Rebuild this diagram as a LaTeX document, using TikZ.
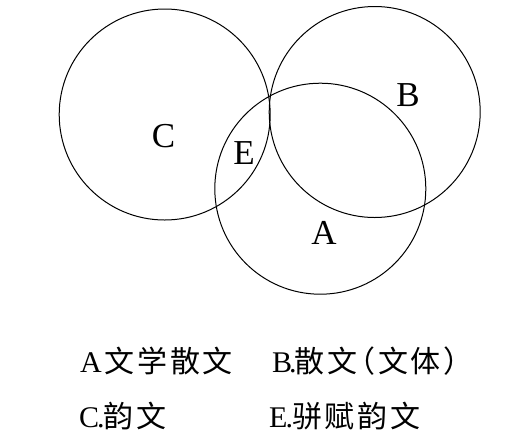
\documentclass[tikz,border=0pt]{standalone}
\usepackage{fontspec}
\setmainfont{Liberation Serif}
\newfontfamily\cjk[LetterSpace=9]{Noto Sans CJK SC}

\begin{document}
\begin{tikzpicture}[
    x=1pt, y=-1pt,
    ring/.style={draw, circle, line width=1pt, minimum size=211pt, inner sep=0pt},
    tag/.style={font=\fontsize{35}{35}\selectfont, inner sep=0pt},
    legend/.style={font=\fontsize{30}{30}\selectfont, inner sep=0pt, anchor=base west}
  ]
    \useasboundingbox (0,0) rectangle (510,437);

    \node[ring] (circC) at (164.7,114.5) {};
    \node[ring] (circB) at (374.7,112) {};
    \node[ring] (circA) at (320.3,188.7) {};

    \node[tag] (tagC) at (163.5,136.5) {C};
    \node[tag] (tagE) at (244,153) {E};
    \node[tag] (tagB) at (408,95) {B};
    \node[tag] (tagA) at (324,233) {A};

    \node[legend] (legA) at (80,372) {A\hspace{3pt}{\cjk\fontsize{30}{30}\selectfont 文学散文}};
    \node[legend] (legB) at (272,372) {B\kern-3pt.\hspace{-2pt}{\cjk\fontsize{30}{30}\selectfont 散文\hspace{-12pt}（文体）}};
    \node[legend] (legC) at (79,427) {C\kern-2pt.\hspace{-1pt}{\cjk\fontsize{30}{30}\selectfont 韵文}};
    \node[legend] (legE) at (269,427) {E\kern-2pt.\hspace{-1pt}{\cjk\fontsize{30}{30}\selectfont 骈赋韵文}};
  \end{tikzpicture}
\end{document}
